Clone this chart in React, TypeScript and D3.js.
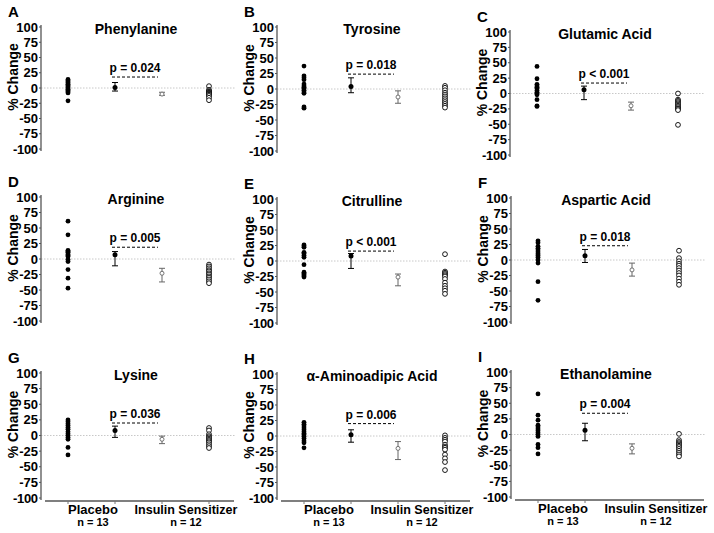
import React from "react";
import * as d3 from "d3";

const letters = ["A", "B", "C", "D", "E", "F", "G", "H", "I"];
const titles = ["Phenylanine", "Tyrosine", "Glutamic  Acid", "Arginine", "Citrulline", "Aspartic  Acid", "Lysine", "α-Aminoadipic  Acid", "Ethanolamine"];
const pTexts = ["p = 0.024", "p = 0.018", "p < 0.001", "p = 0.005", "p < 0.001", "p = 0.018", "p = 0.036", "p = 0.006", "p = 0.004"];
const pLevels = [18, 24, 17, 19, 16, 23, 20, 20, 34];

const placeboPoints: number[][] = [
  [14, 12, 10, 8, 6, 4, 2, 0, -2, -4, -6, -8, -21],
  [37, 21, 18, 15, 8, 5, 3, 1, -2, -5, -7, -29, -31],
  [44, 24, 15, 12, 10, 8, 5, 2, 0, -2, -10, -20, -21],
  [61, 39, 14, 12, 11, 8, 6, 4, -1, -4, -17, -31, -47],
  [26, 24, 22, 14, 12, 9, 6, -6, -18, -20, -22, -24, -26],
  [31, 28, 22, 19, 16, 13, 10, 7, 4, 0, -5, -35, -65],
  [25, 22, 19, 16, 13, 10, 6, 3, 0, -3, -6, -19, -31],
  [22, 19, 16, 13, 10, 7, 4, 2, -1, -4, -8, -11, -19],
  [65, 31, 23, 15, 12, 9, 6, 3, 0, -3, -16, -21, -31],
];
const sensitizerPoints: number[][] = [
  [3, -3, -5, -6, -7, -8, -9, -10, -11, -13, -16, -20],
  [5, 2, -2, -6, -9, -12, -15, -18, -21, -24, -27, -30],
  [0, -10, -12, -14, -16, -18, -20, -22, -24, -25, -27, -51],
  [-9, -12, -15, -18, -20, -23, -25, -28, -30, -33, -36, -39],
  [11, -17, -19, -21, -23, -25, -29, -35, -40, -44, -48, -53],
  [15, 3, -2, -6, -9, -13, -17, -21, -25, -30, -35, -40],
  [12, 8, 2, -1, -3, -5, -7, -9, -11, -14, -17, -20],
  [1, -3, -6, -9, -14, -17, -19, -22, -30, -36, -42, -55],
  [1, -9, -12, -14, -16, -18, -20, -23, -26, -29, -32, -35],
];
// mean, lower, upper
const placeboMean: number[][] = [
  [1, -5, 9], [4, -6, 18], [6, -10, 12], [7, -11, 12], [8, -12, 12],
  [7, -4, 17], [8, -3, 15], [2, -10, 10], [7, -10, 18],
];
const sensitizerMean: number[][] = [
  [-10, -12, -7], [-13, -23, -3], [-20, -27, -14], [-23, -37, -15], [-26, -40, -21],
  [-16, -26, -5], [-6, -13, -1], [-20, -38, -9], [-22, -31, -15],
];
const yTicks = [100, 75, 50, 25, 0, -25, -50, -75, -100];
const groups = ["pp", "pm", "sm", "sp"];

// panel frames: axis x, y of +100, y of -100
const frames = [
  [41, 27, 149], [277, 27, 151], [510, 32, 155],
  [41, 197, 321], [277, 199, 323], [511, 198, 322],
  [41, 373, 498], [277, 374, 498], [511, 372, 497],
];

const FONT = "'Liberation Sans', Arial, sans-serif";

function Panel({ i }: { i: number }) {
  const [ax, yt, yb] = frames[i];
  const y = d3.scaleLinear().domain([-100, 100]).range([yb, yt]);
  const x = d3.scalePoint<string>().domain(groups).range([ax + 27, ax + 168]);
  const bottom = i >= 6;
  const r = 2.4;
  const cap = 3;
  const pm = placeboMean[i];
  const sm = sensitizerMean[i];
  const zeroY = y(0);
  return (
    <g>
      <text x={ax - 33} y={frames[i][1] - 10} fontFamily={FONT} fontWeight="bold" fontSize={15}>{letters[i]}</text>
      <text x={ax + 95} y={yt + 7} textAnchor="middle" fontFamily={FONT} fontWeight="bold" fontSize={14}>{titles[i]}</text>
      {/* zero line */}
      <line x1={ax} x2={ax + 195} y1={zeroY} y2={zeroY} stroke="#c8c8c8" strokeWidth={1} strokeDasharray="1.5,1.5" />
      {/* y axis */}
      <line x1={ax} x2={ax} y1={yt - 2} y2={yb + 2} stroke="#555" strokeWidth={1.3} />
      {yTicks.map((t) => (
        <g key={t}>
          <line x1={ax - 2} x2={ax} y1={y(t)} y2={y(t)} stroke="#555" />
          <text x={ax - 3} y={y(t)} dy="0.35em" textAnchor="end" fontFamily={FONT} fontWeight="bold" fontSize={13} textLength={t === -100 ? 25 : undefined}>{t}</text>
        </g>
      ))}
      <text transform={`translate(${ax - 28},${zeroY - 11}) rotate(-90)`} textAnchor="middle" dy="0.35em" fontFamily={FONT} fontWeight="bold" fontSize={14}>% Change</text>
      {/* p-value */}
      <line x1={ax + 71} x2={ax + 117} y1={y(pLevels[i])} y2={y(pLevels[i])} stroke="#000" strokeWidth={1} strokeDasharray="3,2" />
      <text x={ax + 94} y={y(pLevels[i]) - 5} textAnchor="middle" fontFamily={FONT} fontWeight="bold" fontSize={12}>{pTexts[i]}</text>
      {/* placebo points */}
      {placeboPoints[i].map((v, k) => (
        <circle key={"p" + k} cx={x("pp")} cy={y(v)} r={r} fill="#000" />
      ))}
      {/* sensitizer points */}
      {sensitizerPoints[i].map((v, k) => (
        <circle key={"s" + k} cx={x("sp")} cy={y(v)} r={r} fill="#fff" stroke="#000" strokeWidth={0.9} />
      ))}
      {/* placebo mean */}
      <g stroke="#000" strokeWidth={1}>
        <line x1={x("pm")} x2={x("pm")} y1={y(pm[1])} y2={y(pm[2])} />
        <line x1={x("pm")! - cap} x2={x("pm")! + cap} y1={y(pm[1])} y2={y(pm[1])} />
        <line x1={x("pm")! - cap} x2={x("pm")! + cap} y1={y(pm[2])} y2={y(pm[2])} />
      </g>
      <circle cx={x("pm")} cy={y(pm[0])} r={2.5} fill="#000" />
      {/* sensitizer mean */}
      <g stroke="#666" strokeWidth={1}>
        <line x1={x("sm")} x2={x("sm")} y1={y(sm[1])} y2={y(sm[2])} />
        <line x1={x("sm")! - cap} x2={x("sm")! + cap} y1={y(sm[1])} y2={y(sm[1])} />
        <line x1={x("sm")! - cap} x2={x("sm")! + cap} y1={y(sm[2])} y2={y(sm[2])} />
      </g>
      <circle cx={x("sm")} cy={y(sm[0])} r={2} fill="#fff" stroke="#666" strokeWidth={0.9} />
      {bottom && (
        <g>
          <line x1={ax + 4} x2={ax + 193} y1={yb + 3} y2={yb + 3} stroke="#555" strokeWidth={1.3} />
          {groups.map((g) => (
            <line key={g} x1={x(g)} x2={x(g)} y1={yb + 3} y2={yb + 6} stroke="#777" />
          ))}
          <text x={ax + 52} y={yb + 16} textAnchor="middle" fontFamily={FONT} fontWeight="bold" fontSize={13}>Placebo</text>
          <text x={ax + 52} y={yb + 28} textAnchor="middle" fontFamily={FONT} fontWeight="bold" fontSize={11}>n = 13</text>
          <text x={ax + 145} y={yb + 16} textAnchor="middle" fontFamily={FONT} fontWeight="bold" fontSize={12.5}>Insulin Sensitizer</text>
          <text x={ax + 145} y={yb + 28} textAnchor="middle" fontFamily={FONT} fontWeight="bold" fontSize={11}>n = 12</text>
        </g>
      )}
    </g>
  );
}

export default function App() {
  return (
    <svg width={714} height={533} style={{ position: "absolute", left: 0, top: 0, background: "#fff" }}>
      <rect width={714} height={533} fill="#fff" />
      {letters.map((_, i) => (
        <Panel key={i} i={i} />
      ))}
    </svg>
  );
}
